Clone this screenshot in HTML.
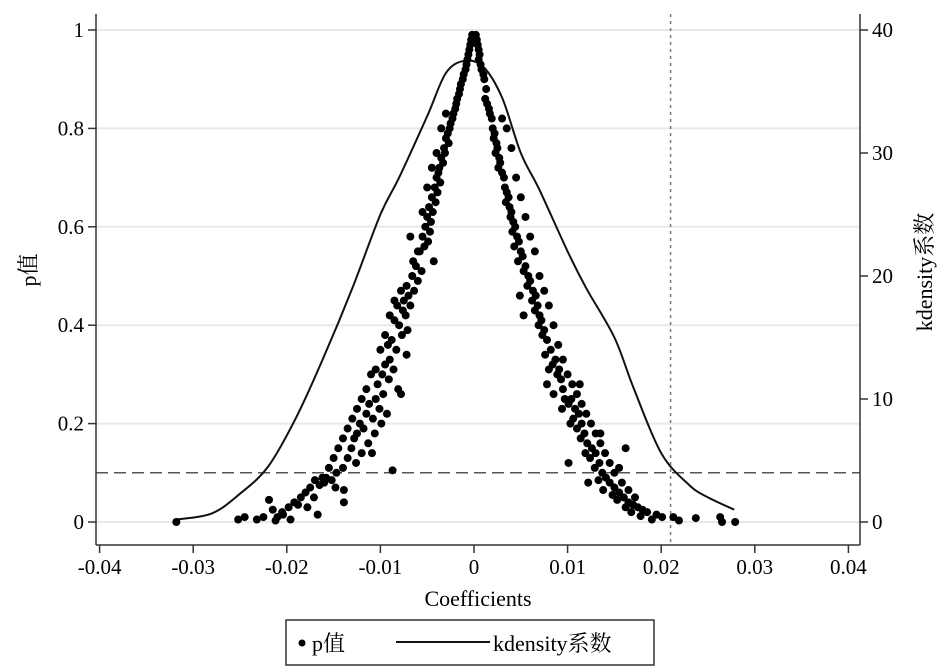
<!DOCTYPE html>
<html><head><meta charset="utf-8"><style>
body{margin:0;background:#fff;}
svg{display:block;font-family:"Liberation Serif","Noto Serif CJK SC",serif;}
</style></head><body>
<svg id="chart" width="945" height="669"></svg>
<script>
const xTicks=[-0.04,-0.03,-0.02,-0.01,0,0.01,0.02,0.03,0.04];
const xTickLabels=["-0.04","-0.03","-0.02","-0.01","0","0.01","0.02","0.03","0.04"];
const pTicks=[0,0.2,0.4,0.6,0.8,1];
const pTickLabels=["0","0.2","0.4","0.6","0.8","1"];
const dTicks=[0,10,20,30,40];
const dTickLabels=["0","10","20","30","40"];
const pThreshold=0.1;
const coefMark=0.021;
const densX=[-0.0318,-0.028,-0.025,-0.022,-0.019,-0.016,-0.013,-0.010,-0.008,-0.005,-0.003,-0.001,0.001,0.003,0.005,0.007,0.010,0.012,0.015,0.017,0.020,0.023,0.025,0.0278];
const densY=[0.2,0.7,2.3,4.5,8.5,13.5,19,25,28,33,36.5,37.5,37,34.5,30,27,22,19,15,11,5.6,3,2,1];
const leftCoef=[-0.0002,-0.0003,-0.0004,-0.0005,-0.0006,-0.0007,-0.0008,-0.0009,-0.0011,-0.0012,-0.0014,-0.0015,-0.0016,-0.0018,-0.0019,-0.002,-0.0022,-0.0023,-0.0025,-0.0026,-0.0028,-0.003,-0.0027,-0.0032,-0.0031,-0.0035,-0.0033,-0.0037,-0.0038,-0.004,-0.0036,-0.0042,-0.0039,-0.0045,-0.0041,-0.0048,-0.0044,-0.005,-0.0046,-0.0052,-0.0047,-0.0055,-0.0049,-0.0053,-0.0058,-0.0043,-0.0062,-0.0056,-0.0066,-0.006,-0.0072,-0.0064,-0.0078,-0.007,-0.0075,-0.0068,-0.0082,-0.0076,-0.0073,-0.0085,-0.008,-0.0071,-0.0077,-0.0088,-0.0092,-0.0083,-0.0072,-0.009,-0.0095,-0.0086,-0.0098,-0.0091,-0.0103,-0.0081,-0.0078,-0.0097,-0.0105,-0.0112,-0.0101,-0.0093,-0.0115,-0.0108,-0.0122,-0.0099,-0.0118,-0.0125,-0.0106,-0.0128,-0.0113,-0.0131,-0.012,-0.0109,-0.0135,-0.0126,-0.0087,-0.014,-0.0147,-0.0158,-0.0152,-0.016,-0.0148,-0.0165,-0.0139,-0.0175,-0.0171,-0.0139,-0.0185,-0.0192,-0.0178,-0.0167,-0.0198,-0.0205,-0.021,-0.0215,-0.0196,-0.0219,-0.0225,-0.0232,-0.0245,-0.0252,-0.0318,-0.0212,-0.0204,
-0.006,-0.0065,-0.0085,-0.009,-0.0095,-0.01,-0.0105,-0.011,-0.0115,-0.012,-0.0125,-0.013,-0.0135,-0.014,-0.0145,-0.015,-0.0155,-0.0162,-0.017,-0.018,-0.0188,-0.0045,-0.004,-0.0035,-0.003,-0.005,-0.0055,-0.0068];
const leftP=[0.99,0.98,0.97,0.96,0.95,0.94,0.93,0.92,0.91,0.9,0.89,0.88,0.87,0.86,0.85,0.84,0.83,0.82,0.81,0.8,0.79,0.78,0.77,0.76,0.75,0.74,0.73,0.72,0.71,0.7,0.69,0.68,0.67,0.66,0.65,0.64,0.63,0.62,0.61,0.6,0.59,0.58,0.57,0.56,0.55,0.53,0.52,0.51,0.5,0.49,0.48,0.47,0.47,0.46,0.45,0.44,0.44,0.43,0.42,0.41,0.4,0.39,0.38,0.37,0.36,0.35,0.34,0.33,0.32,0.31,0.3,0.29,0.28,0.27,0.26,0.26,0.25,0.24,0.23,0.22,0.22,0.21,0.2,0.2,0.19,0.18,0.18,0.17,0.16,0.15,0.14,0.14,0.13,0.12,0.105,0.11,0.1,0.09,0.085,0.08,0.07,0.075,0.065,0.07,0.05,0.04,0.05,0.04,0.03,0.015,0.03,0.02,0.01,0.025,0.005,0.045,0.01,0.005,0.01,0.005,0.0,0.003,0.015,
0.55,0.53,0.45,0.42,0.38,0.35,0.31,0.3,0.27,0.25,0.23,0.21,0.19,0.17,0.15,0.13,0.11,0.09,0.085,0.06,0.035,0.72,0.75,0.8,0.83,0.68,0.63,0.58];
const rightCoef=[0.0002,0.0003,0.0004,0.0005,0.0006,0.0005,0.0007,0.0008,0.001,0.0011,0.0013,0.0012,0.0014,0.0016,0.0017,0.0019,0.002,0.0022,0.0021,0.0024,0.0025,0.0023,0.0027,0.0028,0.0026,0.003,0.0032,0.0033,0.0035,0.0037,0.0034,0.0038,0.004,0.0039,0.0042,0.0044,0.0041,0.0046,0.0048,0.0043,0.005,0.0052,0.0047,0.0055,0.0053,0.0058,0.006,0.0057,0.0063,0.0049,0.0066,0.0062,0.0068,0.0065,0.007,0.0053,0.0072,0.0069,0.0075,0.0073,0.0078,0.0082,0.0076,0.0087,0.0084,0.008,0.0091,0.0089,0.0093,0.0078,0.0095,0.0085,0.0097,0.0104,0.0101,0.0108,0.0094,0.0112,0.0106,0.0115,0.0103,0.011,0.0118,0.0114,0.0121,0.0126,0.0119,0.013,0.0124,0.0134,0.0129,0.0137,0.0141,0.0133,0.0145,0.015,0.0138,0.0155,0.0148,0.016,0.0153,0.0165,0.017,0.0162,0.0175,0.0168,0.018,0.0185,0.0178,0.0195,0.0201,0.019,0.0213,0.0219,0.0237,0.0263,0.0265,0.0279,0.0135,0.0162,0.0113,0.0101,0.0155,0.0122,
0.0035,0.003,0.004,0.0045,0.005,0.0055,0.006,0.0065,0.007,0.0075,0.008,0.0085,0.009,0.0095,0.01,0.0105,0.011,0.0115,0.012,0.0125,0.013,0.0135,0.014,0.0145,0.015,0.0158,0.0165,0.0172];
const rightP=[0.99,0.98,0.97,0.96,0.95,0.94,0.93,0.92,0.91,0.9,0.88,0.86,0.85,0.84,0.83,0.82,0.8,0.79,0.78,0.77,0.76,0.75,0.74,0.73,0.72,0.71,0.7,0.68,0.67,0.66,0.65,0.64,0.63,0.62,0.61,0.6,0.59,0.58,0.57,0.56,0.55,0.54,0.53,0.52,0.51,0.5,0.49,0.48,0.47,0.46,0.46,0.45,0.44,0.43,0.42,0.42,0.41,0.4,0.39,0.38,0.37,0.35,0.34,0.33,0.32,0.31,0.31,0.3,0.29,0.28,0.27,0.26,0.25,0.25,0.24,0.23,0.23,0.22,0.21,0.2,0.2,0.19,0.18,0.17,0.16,0.15,0.14,0.14,0.13,0.12,0.11,0.1,0.09,0.085,0.08,0.07,0.065,0.06,0.055,0.05,0.045,0.04,0.035,0.03,0.03,0.02,0.025,0.02,0.012,0.015,0.01,0.005,0.01,0.003,0.008,0.01,0.0,0.0,0.18,0.15,0.28,0.12,0.11,0.08,
0.8,0.82,0.76,0.7,0.66,0.62,0.58,0.55,0.5,0.47,0.44,0.4,0.36,0.33,0.3,0.28,0.26,0.24,0.22,0.2,0.18,0.16,0.14,0.12,0.1,0.08,0.065,0.05];

const NS="http://www.w3.org/2000/svg";
const svg=document.getElementById('chart');
const X0=474, XS=9360;
const sx=v=>X0+v*XS;
const sy=p=>522-p*492;
const sd=d=>522-d*12.3;
function mk(tag,attrs,parent){const e=document.createElementNS(NS,tag);for(const k in attrs)e.setAttribute(k,attrs[k]);(parent||svg).appendChild(e);return e;}

pTicks.forEach((p,i)=>{const g=mk('line',{x1:96,x2:860,y1:sy(p),y2:sy(p),stroke:'#e8e8e8','stroke-width':2});

});
const hl=mk('line',{x1:96,x2:860,y1:sy(pThreshold),y2:sy(pThreshold),stroke:'#555','stroke-width':1.5,'stroke-dasharray':'12,6'});


const vl=mk('line',{x1:sx(coefMark),x2:sx(coefMark),y1:14,y2:545,stroke:'#777','stroke-width':1.5,'stroke-dasharray':'3,4'});


const la=mk('line',{x1:96,x2:96,y1:14,y2:545,stroke:'#333','stroke-width':1.5});


const ra=mk('line',{x1:860,x2:860,y1:14,y2:545,stroke:'#333','stroke-width':1.5});


const xa=mk('line',{x1:96,x2:860,y1:545,y2:545,stroke:'#333','stroke-width':1.5});



pTicks.forEach((p,i)=>{mk('line',{x1:88,x2:96,y1:sy(p),y2:sy(p),stroke:'#333','stroke-width':1.5});
const t=mk('text',{x:84,y:sy(p)+7,'text-anchor':'end','font-size':21});t.textContent=pTickLabels[i];

});
dTicks.forEach((d,i)=>{mk('line',{x1:860,x2:868,y1:sd(d),y2:sd(d),stroke:'#333','stroke-width':1.5});
const t=mk('text',{x:872,y:sd(d)+7,'text-anchor':'start','font-size':21});t.textContent=dTickLabels[i];

});
xTicks.forEach((v,i)=>{mk('line',{x1:sx(v),x2:sx(v),y1:545,y2:553,stroke:'#333','stroke-width':1.5});
const t=mk('text',{x:sx(v),y:574,'text-anchor':'middle','font-size':21});t.textContent=xTickLabels[i];

});

const xt=mk('text',{x:478,y:606,'text-anchor':'middle','font-size':22});xt.textContent='Coefficients';


const yt=mk('text',{x:36,y:270,'text-anchor':'middle','font-size':22,transform:'rotate(-90 36 270)'});yt.textContent='p值';


const yt2=mk('text',{x:932,y:272,'text-anchor':'middle','font-size':22,transform:'rotate(-90 932 272)'});yt2.textContent='kdensity系数';



// smooth density curve (Catmull-Rom through data points)
const P=densX.map((x,i)=>[sx(x),sd(densY[i])]);
let dpath='M'+P[0][0].toFixed(1)+','+P[0][1].toFixed(1);
for(let i=0;i<P.length-1;i++){const p0=P[Math.max(0,i-1)],p1=P[i],p2=P[i+1],p3=P[Math.min(P.length-1,i+2)];
const c1=[p1[0]+(p2[0]-p0[0])/6,p1[1]+(p2[1]-p0[1])/6],c2=[p2[0]-(p3[0]-p1[0])/6,p2[1]-(p3[1]-p1[1])/6];
dpath+=` C${c1[0].toFixed(1)},${c1[1].toFixed(1)} ${c2[0].toFixed(1)},${c2[1].toFixed(1)} ${p2[0].toFixed(1)},${p2[1].toFixed(1)}`;}
const dc=mk('path',{d:dpath,fill:'none',stroke:'#111','stroke-width':2,'stroke-linejoin':'round'});



const g=mk('g',{fill:'#000'});


const allC=leftCoef.concat(rightCoef), allP=leftP.concat(rightP);
allC.forEach((c,i)=>{const pt=mk('circle',{cx:sx(c),cy:sy(allP[i]),r:4},g);

});

const lg=mk('g',{});


mk('rect',{x:286,y:620,width:368,height:45,fill:'#fff',stroke:'#333','stroke-width':1.5},lg);
mk('circle',{cx:302,cy:643,r:3.5,fill:'#000'},lg);
const l1=mk('text',{x:312,y:651,'font-size':22},lg);l1.textContent='p值';


mk('line',{x1:396,x2:490,y1:642,y2:642,stroke:'#111','stroke-width':2},lg);
const l2=mk('text',{x:493,y:651,'font-size':22},lg);l2.textContent='kdensity系数';


</script>
</body></html>
